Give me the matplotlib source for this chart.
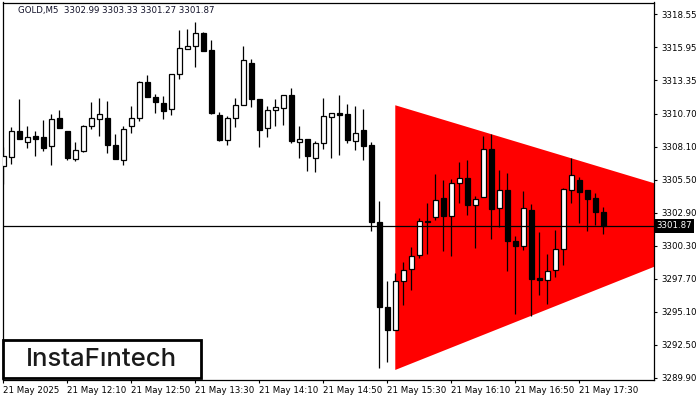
import numpy as np
import matplotlib.pyplot as plt
from matplotlib.patches import Rectangle, Polygon

# GOLD M5 candles, 21 May 2025, 11:30 ... 17:45
opens = [3306.56, 3307.32, 3309.31, 3308.50, 3308.92, 3308.84, 3308.19, 3310.34, 3309.31, 3307.16,
         3307.76, 3309.76, 3310.32, 3310.34, 3308.27, 3307.05, 3309.76, 3310.39, 3313.18, 3312.00,
         3311.58, 3311.10, 3313.81, 3315.81, 3316.00, 3317.03, 3315.71, 3310.63, 3308.66, 3310.39,
         3311.42, 3314.68, 3311.90, 3309.61, 3311.03, 3311.19, 3312.21, 3308.50, 3308.74, 3307.24,
         3308.42, 3310.47, 3310.79, 3310.71, 3308.58, 3309.45, 3308.21, 3302.21, 3295.50, 3293.69,
         3297.53, 3298.48, 3299.61, 3302.29, 3302.58, 3304.03, 3302.66, 3305.27, 3305.66, 3303.53,
         3304.16, 3307.95, 3303.29, 3304.71, 3300.69, 3300.29, 3303.13, 3297.77, 3297.61, 3298.40,
         3300.05, 3304.66, 3305.45, 3304.66, 3304.03, 3302.99]
highs = [3308.05, 3309.65, 3311.90, 3309.71, 3309.31, 3310.18, 3310.71, 3310.97, 3309.31, 3308.45,
         3309.84, 3311.60, 3311.94, 3311.68, 3309.10, 3309.71, 3311.29, 3313.26, 3313.76, 3312.29,
         3312.08, 3313.87, 3317.29, 3317.37, 3317.89, 3317.13, 3316.50, 3310.82, 3310.52, 3311.97,
         3316.02, 3315.05, 3311.90, 3311.29, 3311.90, 3312.21, 3312.69, 3309.76, 3308.74, 3308.58,
         3311.97, 3310.79, 3312.21, 3311.50, 3311.34, 3311.11, 3308.45, 3303.87, 3297.56, 3298.19,
         3299.05, 3300.18, 3302.53, 3303.71, 3305.92, 3305.45, 3305.53, 3306.89, 3307.03, 3304.24,
         3308.92, 3309.08, 3306.24, 3306.06, 3301.08, 3304.63, 3303.61, 3301.42, 3299.66, 3301.58,
         3304.87, 3307.21, 3305.76, 3304.66, 3304.48, 3303.33]
lows = [3305.21, 3306.71, 3308.71, 3308.03, 3307.37, 3307.74, 3306.66, 3309.61, 3307.08, 3306.97,
        3307.68, 3309.50, 3308.92, 3307.60, 3307.13, 3306.69, 3309.18, 3310.13, 3312.02, 3310.76,
        3310.32, 3310.58, 3313.40, 3315.81, 3314.39, 3315.65, 3310.71, 3308.55, 3308.27, 3309.65,
        3311.42, 3311.23, 3308.08, 3308.86, 3309.71, 3309.79, 3308.39, 3307.21, 3306.19, 3306.11,
        3307.92, 3307.24, 3307.48, 3308.39, 3307.84, 3307.03, 3301.45, 3290.66, 3291.19, 3293.69,
        3295.64, 3296.82, 3299.35, 3299.66, 3302.37, 3299.87, 3299.47, 3303.66, 3302.76, 3300.10,
        3304.13, 3300.81, 3301.76, 3298.29, 3294.92, 3299.98, 3294.79, 3296.43, 3295.72, 3297.81,
        3298.79, 3303.66, 3302.08, 3301.45, 3301.97, 3301.27]
closes = [3307.35, 3309.31, 3308.71, 3308.84, 3308.74, 3308.03, 3310.26, 3309.61, 3307.21, 3307.87,
          3309.71, 3310.34, 3310.66, 3308.24, 3307.13, 3309.53, 3310.39, 3313.18, 3312.02, 3311.63,
          3310.92, 3313.87, 3315.84, 3316.02, 3317.03, 3315.65, 3310.76, 3308.61, 3310.39, 3311.42,
          3314.90, 3311.86, 3309.42, 3311.03, 3311.27, 3312.21, 3308.55, 3308.74, 3307.37, 3308.42,
          3310.55, 3310.79, 3310.60, 3308.63, 3309.21, 3308.16, 3302.16, 3295.45, 3293.69, 3297.56,
          3298.40, 3299.50, 3302.27, 3302.16, 3303.92, 3302.66, 3305.27, 3305.66, 3303.50, 3304.00,
          3307.95, 3303.21, 3304.71, 3300.66, 3300.26, 3303.26, 3297.66, 3297.63, 3298.32, 3300.05,
          3304.79, 3305.90, 3304.52, 3304.00, 3302.95, 3301.87]

time_labels = ['21 May 2025', '21 May 12:10', '21 May 12:50', '21 May 13:30', '21 May 14:10',
               '21 May 14:50', '21 May 15:30', '21 May 16:10', '21 May 16:50', '21 May 17:30']
price_ticks = [3318.55, 3315.95, 3313.35, 3310.70, 3308.10, 3305.50,
               3302.90, 3300.30, 3297.70, 3295.10, 3292.50, 3289.90]
last_price = 3301.87
header = 'GOLD,M5  3302.99 3303.33 3301.27 3301.87'

# symmetric triangle: candle index / price of its corners
tri_idx = [49, 49, 96.3]
tri_price = [3311.37, 3290.53, 3302.40]

plt.rcParams['font.family'] = ['DejaVu Sans']

fig = plt.figure(figsize=(7, 4), dpi=100)
ax = fig.add_axes([3 / 700, 20 / 400, 651 / 700, 377.5 / 400])
ax.set_xlim(-0.05, 81.35)
ax.set_ylim(3289.74, 3319.46)

# треугольник
ax.add_patch(Polygon(list(zip(tri_idx, tri_price)), closed=True,
                     facecolor='#ff0000', edgecolor='none', zorder=1))

x = np.arange(len(opens))
o = np.array(opens)
c = np.array(closes)
ax.vlines(x, lows, highs, color='black', lw=0.9, zorder=2)
up = c >= o
ax.bar(x[up], c[up] - o[up], bottom=o[up], width=0.6, color='white',
       edgecolor='black', linewidth=0.9, zorder=3)
ax.bar(x[~up], o[~up] - c[~up], bottom=c[~up], width=0.6, color='black',
       edgecolor='black', linewidth=0.9, zorder=3)

ax.axhline(last_price, color='black', lw=0.9, zorder=4)

# оси
for s in ax.spines.values():
    s.set_color('black')
    s.set_linewidth(0.9)
ax.yaxis.tick_right()
ax.set_yticks(price_ticks)
ax.set_yticklabels([f'{p:.2f}' for p in price_ticks])
ax.set_xticks(range(0, 8 * len(time_labels), 8))
ax.set_xticklabels(time_labels, ha='left')
ax.tick_params(axis='both', direction='out', length=2.5, width=0.8,
               labelsize=6.2, colors='black', pad=1.5)
ax.tick_params(axis='y', pad=2.5)

ax.text(1.004, last_price, '3301.87', transform=ax.get_yaxis_transform(),
        ha='left', va='center', color='white', fontsize=6.2,
        bbox=dict(facecolor='black', edgecolor='none', pad=1.6), zorder=5, clip_on=False)

fig.text(18 / 700, 1 - 11 / 400, header, ha='left', va='center', fontsize=6.2, color='#101028')

# логотип
fig.add_artist(Rectangle((3 / 700, 22 / 400), 198 / 700, 38 / 400, transform=fig.transFigure,
                         facecolor='white', edgecolor='black', linewidth=2, zorder=10))
fig.text(101.5 / 700, (400 - 359) / 400, 'InstaF\u0131ntech', ha='center', va='center',
         fontsize=18.5, family='Inter', weight='medium', color='#1a1a1a', zorder=11)

fig.savefig('out.png', dpi=100)
